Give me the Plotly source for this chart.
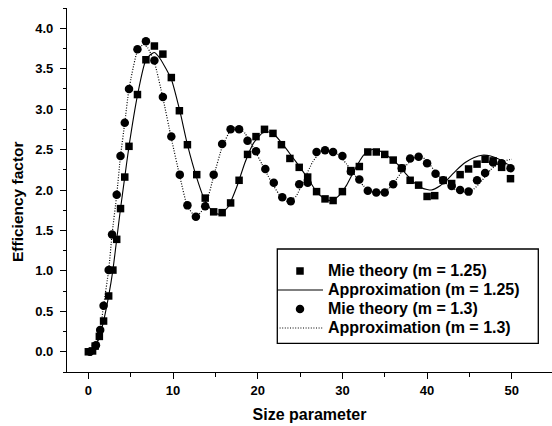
import plotly.graph_objects as go

# Mie theory, m = 1.25 (squares)
mie125_x = [0, 0.5, 0.8, 1.3, 1.8, 2.4, 2.9, 3.35, 3.8, 4.3,
            4.8, 5.8, 6.8, 7.8, 8.8, 9.8, 10.75, 11.7, 12.8, 13.8,
            14.8, 15.8, 16.8, 17.8, 18.8, 19.8, 20.8, 21.8, 22.8, 23.8,
            24.9, 25.9, 26.95, 27.95, 28.9, 30.0, 31.0, 32.0, 33.0, 34.0,
            35.0, 36.0, 37.0, 38.0, 39.0, 40.0, 40.9, 41.9, 42.9, 43.9,
            44.9, 45.9, 46.85, 47.8, 48.8, 49.85]
mie125_y = [0, 0.01, 0.07, 0.19, 0.38, 0.69, 1.01, 1.39, 1.77, 2.16,
            2.54, 3.18, 3.61, 3.78, 3.68, 3.39, 2.98, 2.56, 2.19, 1.90,
            1.73, 1.72, 1.84, 2.12, 2.44, 2.66, 2.75, 2.70, 2.56, 2.39,
            2.28, 2.16, 1.98, 1.89, 1.87, 1.98, 2.24, 2.29, 2.47, 2.47,
            2.44, 2.37, 2.27, 2.12, 2.06, 1.92, 1.93, 2.12, 2.08, 2.19,
            2.26, 2.32, 2.38, 2.36, 2.28, 2.14]

# Mie theory, m = 1.3 (circles)
mie13_x = [0.2, 0.9, 1.4, 1.8, 2.4, 2.8, 3.35, 3.8, 4.3, 4.8,
           5.8, 6.8, 7.8, 8.8, 9.8, 10.8, 11.7, 12.7, 13.8, 14.8,
           15.8, 16.8, 17.8, 18.8, 19.8, 20.9, 21.9, 22.9, 23.9, 24.9,
           25.9, 26.95, 27.95, 28.9, 30.0, 31.0, 32.0, 33.0, 34.0, 35.0,
           36.0, 37.0, 38.0, 39.0, 40.0, 41.0, 41.9, 42.9, 43.9, 44.9,
           45.9, 46.85, 47.8, 48.8, 49.85]
mie13_y = [0, 0.08, 0.27, 0.57, 1.01, 1.45, 1.94, 2.42, 2.83, 3.25,
           3.74, 3.84, 3.60, 3.15, 2.66, 2.19, 1.81, 1.67, 1.80, 2.19,
           2.57, 2.75, 2.75, 2.61, 2.48, 2.26, 2.09, 1.91, 1.86, 2.07,
           2.09, 2.47, 2.49, 2.47, 2.42, 2.23, 2.13, 1.99, 1.97, 1.97,
           2.07, 2.27, 2.39, 2.41, 2.33, 2.20, 2.12, 2.05, 2.00, 1.98,
           2.12, 2.21, 2.34, 2.33, 2.27]

# Approximation, m = 1.25 (solid curve)
approx125_x = [0, 0.5, 0.8, 1.3, 1.8, 2.4, 2.9, 3.35, 3.8, 4.3,
               4.8, 5.8, 6.7, 7.2, 7.8, 8.5, 9.8, 10.8, 11.7, 12.8,
               13.8, 14.8, 15.5, 16.5, 17.5, 18.5, 19.5, 20.5, 21.2, 22.0,
               23.0, 24.0, 25.0, 26.0, 27.0, 28.0, 28.8, 29.5, 30.5, 31.5,
               32.5, 33.5, 34.5, 35.5, 36.5, 37.5, 38.5, 39.5, 40.5, 41.5,
               42.5, 43.5, 44.5, 45.5, 46.5, 47.5, 48.5, 49.5, 50.0]
approx125_y = [0, 0.01, 0.06, 0.18, 0.38, 0.69, 1.01, 1.39, 1.77, 2.16,
               2.54, 3.17, 3.58, 3.66, 3.70, 3.62, 3.37, 2.98, 2.56, 2.15,
               1.86, 1.72, 1.70, 1.79, 2.03, 2.34, 2.58, 2.70, 2.72, 2.68,
               2.56, 2.42, 2.28, 2.13, 1.97, 1.88, 1.87, 1.92, 2.06, 2.26,
               2.43, 2.50, 2.48, 2.41, 2.32, 2.20, 2.09, 2.02, 2.00, 2.05,
               2.14, 2.25, 2.34, 2.40, 2.43, 2.42, 2.38, 2.32, 2.29]

# Approximation, m = 1.3 (dotted curve)
approx13_x = [0, 0.2, 0.9, 1.4, 1.8, 2.4, 2.8, 3.35, 3.8, 4.3,
              4.8, 5.8, 6.5, 7.0, 7.8, 8.8, 9.8, 10.8, 11.7, 12.7,
              13.8, 14.8, 15.8, 16.8, 17.5, 18.5, 19.5, 20.5, 21.5, 22.5,
              23.5, 24.5, 25.5, 26.5, 27.5, 28.3, 29.5, 30.5, 31.5, 32.5,
              33.5, 34.3, 35.5, 36.5, 37.5, 38.5, 39.2, 40.0, 41.0, 42.0,
              43.0, 44.0, 44.7, 45.5, 46.5, 47.5, 48.5, 49.5, 50.0]
approx13_y = [0, 0, 0.08, 0.27, 0.57, 1.01, 1.45, 1.94, 2.42, 2.83,
              3.25, 3.72, 3.80, 3.76, 3.58, 3.14, 2.64, 2.17, 1.80, 1.67,
              1.80, 2.17, 2.53, 2.74, 2.78, 2.70, 2.52, 2.32, 2.12, 1.95,
              1.86, 1.92, 2.13, 2.35, 2.48, 2.50, 2.44, 2.32, 2.18, 2.05,
              1.98, 1.97, 2.02, 2.15, 2.30, 2.40, 2.42, 2.36, 2.22, 2.10,
              2.02, 1.98, 1.97, 2.01, 2.12, 2.25, 2.33, 2.37, 2.38]

x_ticks = [0, 10, 20, 30, 40, 50]
y_ticks = [0.0, 0.5, 1.0, 1.5, 2.0, 2.5, 3.0, 3.5, 4.0]

series_names = ["Mie theory (m = 1.25)", "Approximation (m = 1.25)",
                "Mie theory (m = 1.3)", "Approximation (m = 1.3)"]

FONT = "Liberation Sans, Arial, sans-serif"


def legend_label(text):
    return "<span style='font-size:16px'>" + text + "</span>"


fig = go.Figure()
fig.add_trace(go.Scatter(
    x=approx125_x, y=approx125_y, mode="lines", name=legend_label(series_names[1]),
    line=dict(color="black", width=1.1, shape="spline", smoothing=0.5),
    legendrank=2))
fig.add_trace(go.Scatter(
    x=approx13_x, y=approx13_y, mode="lines", name=legend_label(series_names[3]),
    line=dict(color="black", width=1.2, dash="1px,1.6px", shape="spline", smoothing=0.5),
    legendrank=4))
fig.add_trace(go.Scatter(
    x=mie125_x, y=mie125_y, mode="markers", name=legend_label(series_names[0]),
    marker=dict(symbol="square", size=7.5, color="black", line=dict(width=0)),
    legendrank=1))
fig.add_trace(go.Scatter(
    x=mie13_x, y=mie13_y, mode="markers", name=legend_label(series_names[2]),
    marker=dict(symbol="circle", size=8.5, color="black", line=dict(width=0)),
    legendrank=3))

W, H = 552, 426
L, R, T, B = 67, 0, 8, 54
pw, ph = W - L - R, H - T - B


def px_x(p):
    return (p - L) / pw


def px_y(p):
    return (H - B - p) / ph


axis_common = dict(
    showline=True, linecolor="black", linewidth=1.3,
    ticks="outside", ticklen=6, tickwidth=1.2, tickcolor="black",
    showgrid=False, zeroline=False, mirror=False,
    tickfont=dict(family=FONT, size=13, color="black", weight="bold"),
)

fig.update_layout(
    width=W, height=H,
    margin=dict(l=L, r=R, t=T, b=B, autoexpand=False),
    paper_bgcolor="white", plot_bgcolor="white",
    font=dict(family=FONT, color="black"),
    xaxis=dict(
        range=[-2.52, 54.75], tickvals=x_ticks, ticktext=[str(v) for v in x_ticks],
        minor=dict(dtick=5, tick0=0, ticks="outside", ticklen=3.5, tickwidth=1, tickcolor="black"),
        title=dict(text="Size parameter", standoff=12,
                   font=dict(family=FONT, size=16, color="black", weight="bold")),
        **axis_common),
    yaxis=dict(
        range=[-0.25, 4.25], tickvals=y_ticks, ticktext=[f"{v:.1f}" for v in y_ticks],
        minor=dict(dtick=0.25, tick0=0, ticks="outside", ticklen=3, tickwidth=1, tickcolor="black"),
        ticklabelstandoff=4,
        **axis_common),
    showlegend=True,
    legend=dict(
        x=px_x(272), y=px_y(256.5), xanchor="left", yanchor="top",
        bgcolor="rgba(0,0,0,0)", borderwidth=0,
        itemwidth=46, tracegroupgap=0,
        font=dict(family=FONT, size=11.8, color="black", weight="bold"),
    ),
    shapes=[dict(
        type="rect", xref="paper", yref="paper",
        x0=px_x(277.3), x1=px_x(538.3), y0=px_y(343.3), y1=px_y(249),
        line=dict(color="black", width=1.3), fillcolor="white", layer="below",
    )],
    annotations=[dict(
        text="Efficiency factor", textangle=-90, showarrow=False,
        xref="paper", yref="paper", x=px_x(17.5), y=px_y(201.5),
        xanchor="center", yanchor="middle",
        font=dict(family=FONT, size=15.5, color="black", weight="bold"),
    )],
)

fig.write_html("out.html")
